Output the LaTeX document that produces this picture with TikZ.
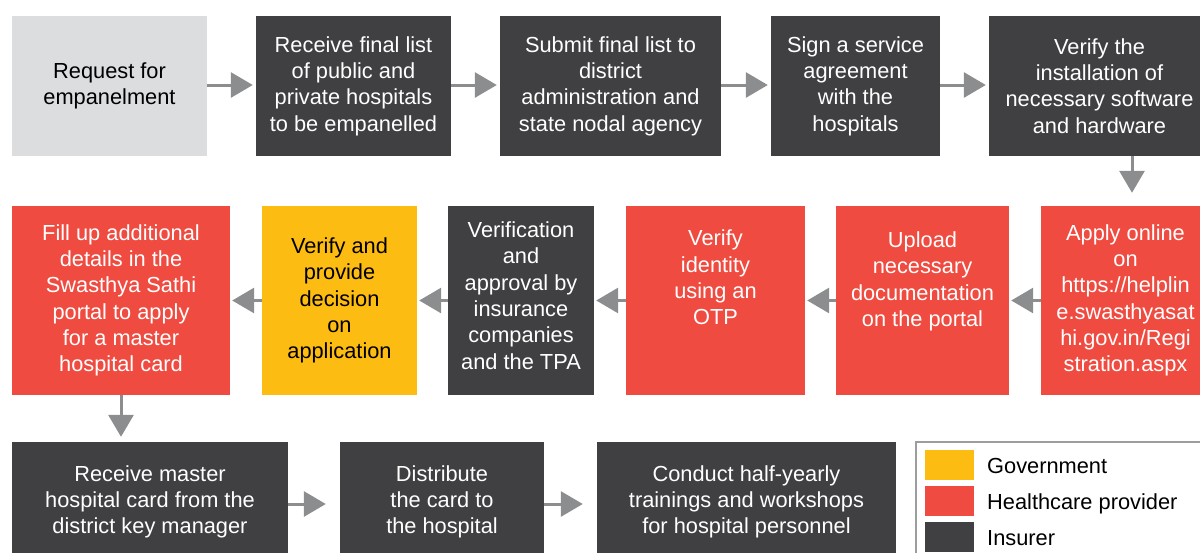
\documentclass[tikz,border=0pt]{standalone}
\usepackage{fontspec}
\setmainfont{Liberation Sans}
\usetikzlibrary{arrows.meta}
\definecolor{insurer}{HTML}{404042}
\definecolor{provider}{HTML}{F04B40}
\definecolor{government}{HTML}{FDBC11}
\definecolor{applicant}{HTML}{DCDDDF}
\definecolor{flow}{HTML}{8C8D8F}
\definecolor{keyframe}{HTML}{9D9D9D}
\newcommand{\stagefont}{\fontsize{21.8pt}{26.3pt}\selectfont}
\tikzset{
    stage/.style={rectangle,inner sep=0pt,align=center,text=white,font=\stagefont},
    flowarrow/.style={draw=flow,line width=3pt,-{Triangle[length=22pt,width=25pt]}}
}

\begin{document}
\begin{tikzpicture}[x=1pt,y=-1pt]
    \useasboundingbox (0,0) rectangle (1200,552);
    \clip (0,0) rectangle (1200,552);
    % first row, left to right
    \node at (109.5,86) [stage,fill=applicant,text=black,minimum width=195pt,minimum height=140pt] (request) {Request for\\empanelment};
    \node at (353.5,86) [stage,fill=insurer,minimum width=195pt,minimum height=140pt] (shortlist) {Receive final list\\of public and\\private hospitals\\to be empanelled};
    \node at (610.5,86) [stage,fill=insurer,minimum width=221pt,minimum height=140pt] (submit) {Submit final list to\\district\\administration and\\state nodal agency};
    \node at (855.5,86) [stage,fill=insurer,minimum width=169pt,minimum height=140pt] (agreement) {Sign a service\\agreement\\with the\\hospitals};
    \node at (1099.5,86) [stage,fill=insurer,minimum width=221pt,minimum height=140pt] (install) {Verify the\\installation of\\necessary software\\and hardware};
    % second row, right to left
    \node at (1125.5,300.5) [stage,fill=provider,minimum width=169pt,minimum height=189pt] (apply) {Apply online\\on\\https://helplin\\e.swasthyasat\\hi.gov.in/Regi\\stration.aspx};
    \node at (922.5,300.5) [stage,fill=provider,minimum width=173pt,minimum height=189pt,
        label={[stage,yshift=19pt]center:{Upload\\necessary\\documentation\\on the portal}}] (upload) {};
    \node at (715.5,300.5) [stage,fill=provider,minimum width=179pt,minimum height=189pt,
        label={[stage,yshift=23pt]center:{Verify\\identity\\using an\\OTP}}] (otp) {};
    \node at (521,300.5) [stage,fill=insurer,minimum width=146pt,minimum height=189pt,
        label={[stage,yshift=5pt]center:{Verification\\and\\approval by\\insurance\\companies\\and the TPA}}] (approval) {};
    \node at (339.5,300.5) [stage,fill=government,text=black,minimum width=155pt,minimum height=189pt] (decision) {Verify and\\provide\\decision\\on\\application};
    \node at (121,300.5) [stage,fill=provider,minimum width=218pt,minimum height=189pt] (details) {Fill up additional\\details in the\\Swasthya Sathi\\portal to apply\\for a master\\hospital card};
    % third row
    \node at (150,502) [stage,fill=insurer,minimum width=276pt,minimum height=120pt] (mastercard) {Receive master\\hospital card from the\\district key manager};
    \node at (442,502) [stage,fill=insurer,minimum width=204pt,minimum height=120pt] (distribute) {Distribute\\the card to\\the hospital};
    \node at (746.5,502) [stage,fill=insurer,minimum width=299pt,minimum height=120pt] (training) {Conduct half-yearly\\trainings and workshops\\for hospital personnel};
    % arrows
    \foreach \a/\b in {request/shortlist,shortlist/submit,submit/agreement,agreement/install}
        \draw[flowarrow,shorten >=3pt] ([yshift=1pt]\a.east) -- ([yshift=1pt]\b.west);
    \coordinate (drop) at (1132,0);
    \draw[flowarrow,shorten >=13pt] (install.south -| drop) -- (apply.north -| drop);
    \foreach \a/\b in {apply/upload,upload/otp,otp/approval,approval/decision,decision/details}
        \draw[flowarrow,shorten >=2pt] (\a) -- (\b);
    \draw[flowarrow,shorten >=5pt] (details.south) -- (details.south |- mastercard.north);
    \foreach \a/\b in {mastercard/distribute,distribute/training}
        \draw[flowarrow,shorten >=14pt] ([yshift=-2pt]\a.east) -- ([yshift=-2pt]\b.west);
    % legend
    \node at (1067,510) [rectangle,draw=keyframe,line width=2pt,minimum width=302pt,minimum height=136pt] (legend) {};
    \foreach \y/\c/\t/\n in {473/government/Government/gov,509/provider/Healthcare provider/care,545/insurer/Insurer/ins} {
        \node at (949.5,\y-8) [rectangle,fill=\c,minimum width=49pt,minimum height=30pt] (swatch-\n) {};
        \node at (987,\y) [anchor=base west,inner sep=0pt,font=\stagefont] (key-\n) {\t};
    }
\end{tikzpicture}
\end{document}
